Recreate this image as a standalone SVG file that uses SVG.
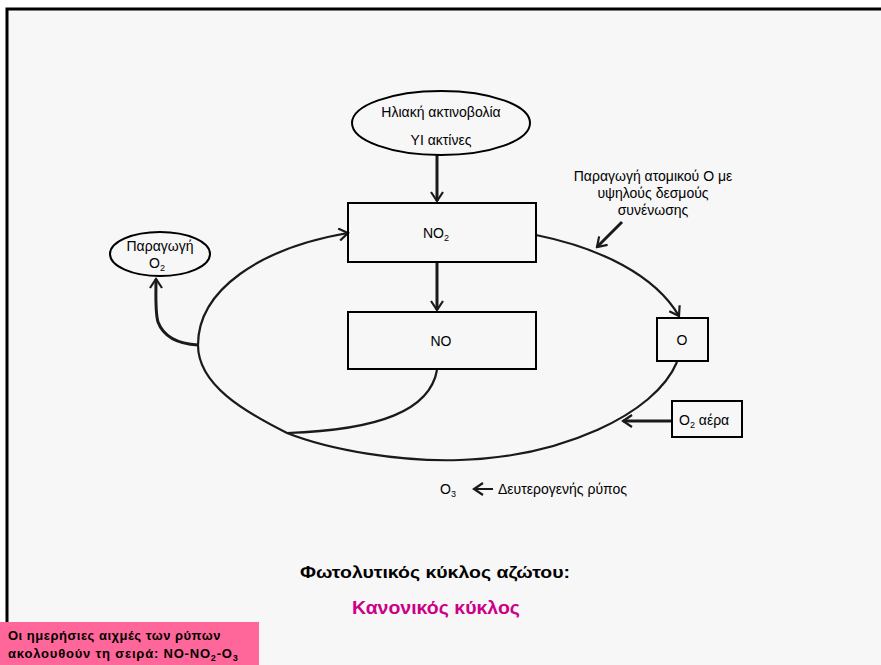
<svg xmlns="http://www.w3.org/2000/svg" width="881" height="665" viewBox="0 0 881 665">
<style>
text{font-family:"Liberation Sans",Arial,sans-serif;fill:#000}
.n{font-size:14px;text-anchor:middle}
.box{fill:none;stroke:#000;stroke-width:2}
.c{fill:none;stroke:#1a1a1a;stroke-width:2.2}
.s{fill:none;stroke:#1a1a1a;stroke-width:3}
</style>
<defs>
<marker id="ah" markerWidth="12" markerHeight="14" refX="10" refY="7" orient="auto" markerUnits="userSpaceOnUse">
<path d="M1,1 L10,7 L1,13" fill="none" stroke="#1a1a1a" stroke-width="2.2"/>
</marker>
</defs>
<rect x="0" y="0" width="881" height="665" fill="#fff"/>
<rect x="7" y="9" width="874" height="656" fill="#f7f7f7"/>
<path d="M7,665 L7,9 L881,9" fill="none" stroke="#000" stroke-width="3"/>

<g id="connectors">
<line class="s" x1="437" y1="155" x2="437" y2="201" marker-end="url(#ah)"/>
<line class="s" x1="437" y1="262" x2="437" y2="310" marker-end="url(#ah)"/>
<path class="c" d="M536,235 C600,248 655,275 679,316" marker-end="url(#ah)"/>
<path class="c" d="M677,362 C655,415 560,457 460,460 C400,462 330,450 287,433 C245,412 198,385 198,345 C198,290 260,248 348,233" marker-end="url(#ah)"/>
<path class="c" d="M437,370 C430,410 380,430 287,433"/>
<path class="s" d="M198,345 C180,344 164,338 158,322 C155,312 156,295 156,279" marker-end="url(#ah)"/>
<line class="s" x1="672" y1="421" x2="623" y2="421" marker-end="url(#ah)"/>
<line class="s" x1="622" y1="222" x2="597" y2="247" marker-end="url(#ah)"/>
<line x1="493" y1="489" x2="474" y2="489" stroke="#1a1a1a" stroke-width="2" marker-end="url(#ah)"/>
</g>

<g id="sun">
<ellipse class="box" cx="441" cy="123" rx="89" ry="32"/>
<text class="n" x="441" y="117">Ηλιακή ακτινοβολία</text>
<text class="n" x="441" y="145">ΥΙ ακτίνες</text>
</g>
<g id="no2">
<rect class="box" x="348" y="203" width="188" height="59"/>
<text class="n" x="436" y="238">NO<tspan font-size="9" dy="3">2</tspan></text>
</g>
<g id="no">
<rect class="box" x="348" y="312" width="188" height="57"/>
<text class="n" x="441" y="346">NO</text>
</g>
<g id="o2prod">
<ellipse class="box" cx="160" cy="254" rx="50" ry="22"/>
<text class="n" x="160" y="251">Παραγωγή</text>
<text class="n" x="157" y="268">O<tspan font-size="9" dy="3">2</tspan></text>
</g>
<g id="o">
<rect class="box" x="657" y="318" width="51" height="43"/>
<text class="n" x="682" y="345">O</text>
</g>
<g id="o2air">
<rect class="box" x="672" y="401" width="70" height="36"/>
<text x="679" y="425" font-size="14">O<tspan font-size="9" dy="3">2</tspan><tspan dy="-3"> αέρα</tspan></text>
</g>
<g id="label-atomic">
<text class="n" x="653" y="181" font-size="13">Παραγωγή ατομικού O με</text>
<text class="n" x="653" y="198" font-size="13">υψηλούς δεσμούς</text>
<text class="n" x="653" y="215" font-size="13">συνένωσης</text>
</g>
<g id="o3">
<text x="440" y="494" font-size="14">O<tspan font-size="9" dy="3">3</tspan></text>
<text x="498" y="494" font-size="14">Δευτερογενής ρύπος</text>
</g>
<text x="300" y="578" font-size="17" font-weight="bold" textLength="270" lengthAdjust="spacingAndGlyphs">Φωτολυτικός κύκλος αζώτου:</text>
<text x="352" y="614" font-size="18" font-weight="bold" textLength="168" lengthAdjust="spacingAndGlyphs" style="fill:#cc0088">Κανονικός κύκλος</text>
<g id="note">
<rect x="0" y="622" width="259" height="43" fill="#ff6699"/>
<text x="8" y="640" font-size="13" font-weight="bold" letter-spacing="0.5">Οι ημερήσιες αιχμές των ρύπων</text>
<text x="8" y="658" font-size="13" font-weight="bold" letter-spacing="0.8">ακολουθούν τη σειρά: NO-NO<tspan font-size="9" dy="3">2</tspan><tspan dy="-3">-O</tspan><tspan font-size="9" dy="3">3</tspan></text>
</g>
</svg>
